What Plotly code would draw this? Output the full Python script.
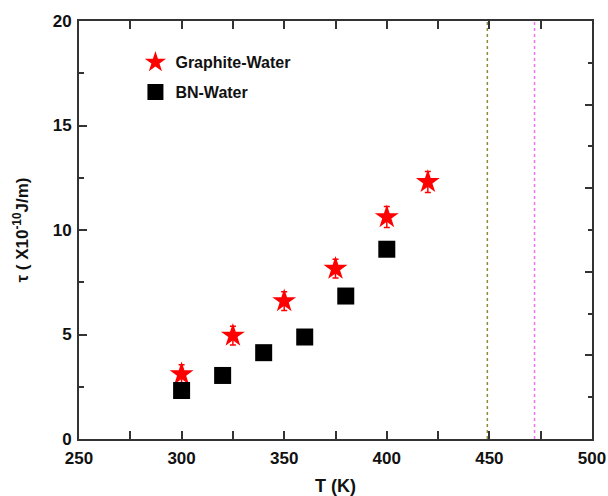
import plotly.graph_objects as go

# Temperature (K) and line tension tau (x1e-10 J/m)
t_graphite = [300, 325, 350, 375, 400, 420]
tau_graphite = [3.1, 4.95, 6.6, 8.15, 10.62, 12.3]
err_graphite = [0.45, 0.45, 0.45, 0.45, 0.5, 0.5]

t_bn = [300, 320, 340, 360, 380, 400]
tau_bn = [2.32, 3.04, 4.13, 4.88, 6.84, 9.08]

# Reference temperatures marked with dotted vertical lines
t_marks = [449, 472]
mark_colors = ["#8a8a3a", "#f070f0"]

y_span = [0, 20]

font_family = "Arial, Liberation Sans, sans-serif"
axis_color = "#333333"

fig = go.Figure()

for tm, col in zip(t_marks, mark_colors):
    fig.add_trace(go.Scatter(
        x=[tm, tm], y=y_span, mode="lines",
        line=dict(color=col, width=1.5, dash="dot"),
        showlegend=False, hoverinfo="skip",
    ))

fig.add_trace(go.Scatter(
    x=t_graphite, y=tau_graphite, mode="markers", name="Graphite-Water",
    legendgroup="g",
    marker=dict(symbol="star", size=18, color="#ff0000"),
    error_y=dict(type="data", array=err_graphite, color="#ff0000",
                 thickness=1.5, width=3),
))

fig.add_trace(go.Scatter(
    x=t_bn, y=tau_bn, mode="markers", name="BN-Water",
    legendgroup="b",
    marker=dict(symbol="square", size=17, color="#000000"),
))

# Invisible trace to carry the right-hand tick axis
fig.add_trace(go.Scatter(
    x=[t_bn[0]], y=[tau_bn[0]], yaxis="y2", mode="markers",
    marker=dict(opacity=0), showlegend=False, hoverinfo="skip",
))

tick_font = dict(family=font_family, size=17, color="#111111", weight="bold")

fig.update_layout(
    width=608, height=496,
    margin=dict(l=79, r=16, t=21, b=57, autoexpand=False),
    paper_bgcolor="white", plot_bgcolor="white",
    showlegend=True,
    legend=dict(
        x=0.11, y=0.942, xanchor="left", yanchor="top",
        bgcolor="rgba(0,0,0,0)", borderwidth=0,
        tracegroupgap=6,
        font=dict(family=font_family, size=16, color="#111111", weight="bold"),
    ),
    xaxis=dict(
        range=[250, 500], dtick=50, tick0=250, automargin=False,
        showgrid=False, zeroline=False,
        showline=True, linecolor=axis_color, linewidth=1.8,
        mirror="allticks", ticks="inside", ticklen=8, tickwidth=1.5,
        tickcolor=axis_color, ticklabelstandoff=3,
        minor=dict(dtick=25, tick0=250, ticks="inside", ticklen=5,
                   tickwidth=1.5, tickcolor=axis_color, showgrid=False),
        tickfont=tick_font,
        title=dict(text="T (K)", standoff=14,
                   font=dict(family=font_family, size=18, color="#111111",
                             weight="bold")),
    ),
    yaxis=dict(
        range=y_span, dtick=5, tick0=0, automargin=False,
        showgrid=False, zeroline=False,
        showline=True, linecolor=axis_color, linewidth=1.8,
        mirror=True, ticks="inside", ticklen=8, tickwidth=1.5,
        tickcolor=axis_color, ticklabelstandoff=2,
        minor=dict(dtick=2.5, tick0=0, ticks="inside", ticklen=5,
                   tickwidth=1.5, tickcolor=axis_color, showgrid=False),
        tickfont=tick_font,
        title=dict(text="τ ( X10<sup>-10</sup>J/m)", standoff=20,
                   font=dict(family=font_family, size=17, color="#111111",
                             weight="bold")),
    ),
    yaxis2=dict(
        range=y_span, dtick=4, tick0=0, overlaying="y", side="right",
        automargin=False,
        showgrid=False, zeroline=False, showline=False,
        showticklabels=False, ticks="inside", ticklen=7, tickwidth=1.5,
        tickcolor=axis_color,
        minor=dict(dtick=2, tick0=0, ticks="inside", ticklen=4,
                   tickwidth=1.5, tickcolor=axis_color, showgrid=False),
    ),
)

fig.write_html("out.html")
